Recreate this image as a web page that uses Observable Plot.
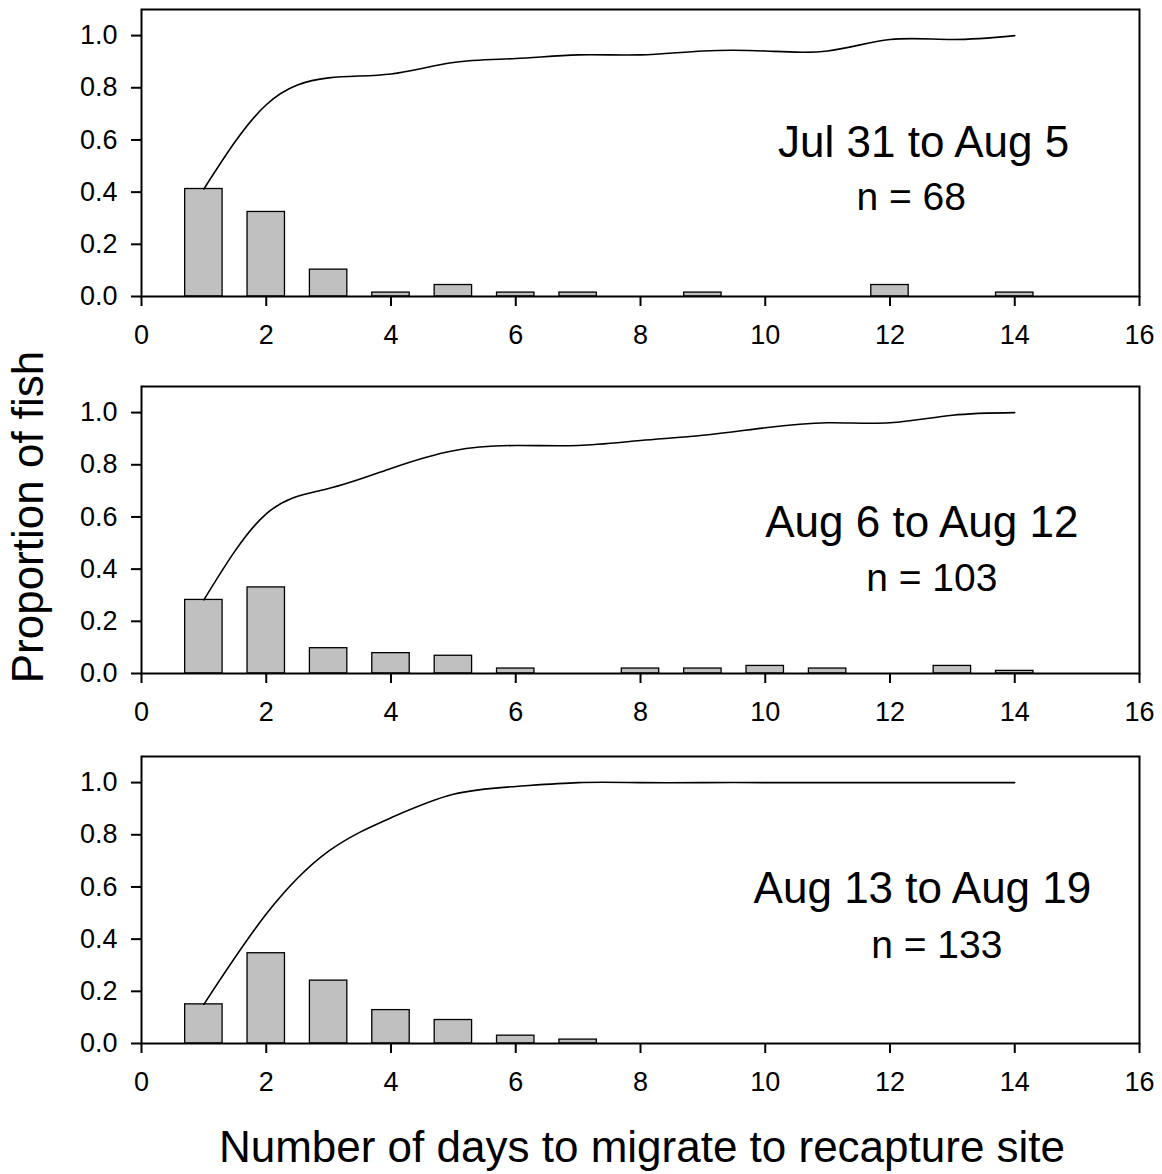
<!DOCTYPE html>
<html><head><meta charset="utf-8">
<script src="https://cdn.jsdelivr.net/npm/d3@7"></script>
<script src="https://cdn.jsdelivr.net/npm/@observablehq/plot@0.6"></script>
<style>
body{margin:0;background:#fff;}
#wrap{position:relative;width:1162px;height:1174px;background:#fff;font-family:"Liberation Sans",Arial,sans-serif;overflow:hidden;}
.panel{position:absolute;left:0;}
#overlay{position:absolute;left:0;top:0;pointer-events:none;}
</style>
</head><body>
<div id="wrap"></div>
<script>
const days = [1,2,3,4,5,6,7,8,9,10,11,12,13,14];
const xTicks = [0,2,4,6,8,10,12,14,16];
const yTicks = [0,0.2,0.4,0.6,0.8,1.0];

// proportion of fish per day (bars)
const propA = [0.412,0.324,0.103,0.015,0.044,0.015,0.015,0,0.015,0,0,0.044,0,0.015];
const propB = [0.282,0.330,0.097,0.078,0.068,0.019,0,0.019,0.019,0.029,0.019,0,0.029,0.010];
const propC = [0.150,0.346,0.241,0.128,0.090,0.030,0.015,0,0,0,0,0,0,0];
// cumulative proportion (line)
const cumA = [0.412,0.735,0.838,0.853,0.897,0.912,0.926,0.926,0.941,0.941,0.941,0.985,0.985,1.0];
const cumB = [0.282,0.612,0.709,0.786,0.854,0.874,0.874,0.893,0.913,0.942,0.961,0.961,0.990,1.0];
const cumC = [0.150,0.496,0.737,0.865,0.955,0.985,1.0,1.0,1.0,1.0,1.0,1.0,1.0,1.0];

const periodLabels = ["Jul 31 to Aug 5","Aug 6 to Aug 12","Aug 13 to Aug 19"];
const nLabels = ["n = 68","n = 103","n = 133"];
const yTitle = "Proportion of fish";
const xTitle = "Number of days to migrate to recapture site";

const FONT = '"Liberation Sans", Arial, sans-serif';
const wrap = document.getElementById("wrap");

const panels = [
  {prop: propA, cum: cumA, top: 0,   lx: 12.54, ly: 0.533, nx: 12.34, ny: 0.330},
  {prop: propB, cum: cumB, top: 377, lx: 12.51, ly: 0.522, nx: 12.67, ny: 0.318},
  {prop: propC, cum: cumC, top: 747, lx: 12.52, ly: 0.537, nx: 12.75, ny: 0.326}
];

panels.forEach((p, i) => {
  const bars = days.map((d, j) => ({day: d, v: p.prop[j]})).filter(d => d.v > 0);
  const line = days.map((d, j) => ({day: d, c: p.cum[j]}));
  const svg = Plot.plot({
    width: 1162, height: 346,
    marginLeft: 141, marginRight: 23, marginTop: 9, marginBottom: 50,
    x: {domain: [0, 16]},
    y: {domain: [0, 1.1]},
    style: {fontFamily: FONT, fontSize: "27px", color: "black", background: "white", overflow: "visible"},
    marks: [
      Plot.rectY(bars, {x1: d => d.day - 0.3, x2: d => d.day + 0.3, y1: 0, y2: "v",
        fill: "#c0c0c0", stroke: "black", strokeWidth: 1.3}),
      Plot.line(line, {x: "day", y: "c", curve: "natural", stroke: "black", strokeWidth: 1.6}),
      Plot.frame({stroke: "black", strokeWidth: 2}),
      Plot.axisX({ticks: xTicks, tickFormat: "d", tickSize: 10, tickPadding: 18, strokeWidth: 2, label: null, fontSize: 27}),
      Plot.axisY({ticks: yTicks, tickFormat: ".1f", tickSize: 10, tickPadding: 14, strokeWidth: 2, label: null, fontSize: 27}),
      Plot.text([periodLabels[i]], {x: () => p.lx, y: () => p.ly, text: d => d, fontSize: 44,
        textAnchor: "middle", lineAnchor: "bottom", fill: "black"}),
      Plot.text([nLabels[i]], {x: () => p.nx, y: () => p.ny, text: d => d, fontSize: 39,
        textAnchor: "middle", lineAnchor: "bottom", fill: "black"})
    ]
  });
  svg.classList.add("panel");
  svg.style.top = p.top + "px";
  wrap.appendChild(svg);
});

// axis titles overlay
const ov = d3.select(wrap).append("svg").attr("id", "overlay")
  .attr("width", 1162).attr("height", 1174)
  .style("font-family", FONT);
ov.append("text").attr("transform", "translate(43,517) rotate(-90)")
  .attr("text-anchor", "middle").attr("font-size", 44).attr("fill", "black").text(yTitle);
ov.append("text").attr("x", 642).attr("y", 1162)
  .attr("text-anchor", "middle").attr("font-size", 44).attr("fill", "black").text(xTitle);
</script>
</body></html>
